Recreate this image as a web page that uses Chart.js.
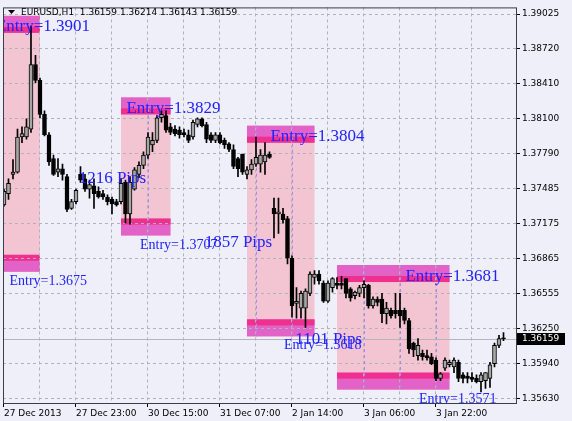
<!DOCTYPE html>
<html><head><meta charset="utf-8">
<script src="https://cdn.jsdelivr.net/npm/chart.js@4"></script>
<style>html,body{margin:0;padding:0;background:#eeeff8;}canvas{display:block;}</style>
</head><body>
<canvas id="c" width="572" height="421" style="width:572px;height:421px"></canvas>
<script>
const symbol = 'EURUSD,H1';
const xTickLabels = ['27 Dec 2013','27 Dec 23:00','30 Dec 15:00','31 Dec 07:00','2 Jan 14:00','3 Jan 06:00','3 Jan 22:00'];
const yTickLabels = ['1.35630','1.35940','1.36250','1.36555','1.36865','1.37175','1.37485','1.37790','1.38100','1.38410','1.38720','1.39025'];

const opens = [1.3734,1.3744,1.3761,1.3763,1.3794,1.3794,1.3801,1.3858,1.3844,1.3814,
1.3796,1.3775,1.3763,1.3766,1.3759,1.3731,1.3737,1.3761,1.3757,1.3748,
1.3751,1.3746,1.3744,1.3741,1.3739,1.3737,1.3737,1.3754,1.3726,1.3748,
1.3761,1.3769,1.3778,1.3787,1.3791,1.3811,1.3813,1.3803,1.3801,1.3800,
1.3798,1.3796,1.3794,1.3805,1.3810,1.3805,1.3796,1.3791,1.3796,1.3791,
1.3788,1.3783,1.3775,1.3779,1.3761,1.3765,1.3770,1.3770,1.3772,1.3779,
1.3731,1.3726,1.3726,1.3722,1.3687,1.3647,1.3643,1.3643,1.3656,1.3670,
1.3673,1.3665,1.3649,1.3661,1.3665,1.3665,1.3669,1.3660,1.3654,1.3656,
1.3661,1.3663,1.3645,1.3651,1.3651,1.3638,1.3641,1.3641,1.3641,1.3641,
1.3632,1.3612,1.3601,1.3603,1.3601,1.3600,1.3597,1.3581,1.3590,1.3593,
1.3591,1.3595,1.3584,1.3583,1.3582,1.3581,1.3578,1.3579,1.3581,1.3594,
1.3610,1.36159];
const highs = [1.3748,1.3757,1.3774,1.3801,1.3803,1.3810,1.3892,1.3866,1.3846,1.3817,
1.3798,1.3778,1.3775,1.3770,1.3761,1.3739,1.3748,1.3768,1.3761,1.3756,
1.3757,1.3750,1.3747,1.3743,1.3741,1.3739,1.3757,1.3756,1.3759,1.3767,
1.3772,1.3781,1.3798,1.3798,1.3813,1.3817,1.3817,1.3806,1.3804,1.3803,
1.3801,1.3800,1.3809,1.3811,1.3811,1.3807,1.3798,1.3798,1.3798,1.3793,
1.3789,1.3787,1.3776,1.3779,1.3768,1.3774,1.3794,1.3783,1.3789,1.3781,
1.3740,1.3740,1.3731,1.3724,1.3689,1.3661,1.3658,1.3660,1.3675,1.3676,
1.3676,1.3667,1.3667,1.3670,1.3670,1.3671,1.3669,1.3661,1.3658,1.3663,
1.3667,1.3664,1.3653,1.3653,1.3656,1.3648,1.3643,1.3656,1.3656,1.3643,
1.3634,1.3613,1.3616,1.3606,1.3606,1.3603,1.3599,1.3586,1.3599,1.3597,
1.3599,1.3597,1.3586,1.3586,1.3586,1.3584,1.3586,1.3586,1.3595,1.3612,
1.3619,1.36214];
const lows = [1.3733,1.3739,1.3757,1.3762,1.3789,1.3792,1.3798,1.3842,1.3811,1.3795,
1.3769,1.3760,1.3759,1.3756,1.3728,1.3730,1.3735,1.3754,1.3746,1.3740,
1.3731,1.3740,1.3739,1.3734,1.3726,1.3733,1.3735,1.3718,1.3717,1.3747,
1.3758,1.3766,1.3775,1.3781,1.3789,1.3807,1.3798,1.3796,1.3795,1.3793,
1.3794,1.3789,1.3792,1.3803,1.3803,1.3789,1.3789,1.3789,1.3788,1.3784,
1.3781,1.3766,1.3759,1.3761,1.3757,1.3761,1.3768,1.3763,1.3761,1.3775,
1.3705,1.3709,1.3718,1.3682,1.3635,1.3634,1.3634,1.3626,1.3654,1.3664,
1.3664,1.3648,1.3648,1.3657,1.3660,1.3660,1.3652,1.3649,1.3651,1.3653,
1.3652,1.3643,1.3643,1.3645,1.3630,1.3629,1.3634,1.3634,1.3626,1.3629,
1.3603,1.3600,1.3597,1.3597,1.3597,1.3593,1.3579,1.3579,1.3588,1.3591,
1.3586,1.3578,1.3577,1.3577,1.3578,1.3577,1.3569,1.3572,1.3573,1.3591,
1.3608,1.36143];
const closes = [1.3746,1.3753,1.3763,1.3794,1.3797,1.3803,1.3858,1.3844,1.3814,1.3796,
1.3772,1.3761,1.3766,1.3761,1.3730,1.3737,1.3747,1.3756,1.3748,1.3752,
1.3744,1.3741,1.3741,1.3737,1.3735,1.3734,1.3753,1.3726,1.3754,1.3765,
1.3769,1.3778,1.3794,1.3791,1.3811,1.3814,1.3800,1.3798,1.3797,1.3796,
1.3796,1.3791,1.3807,1.3810,1.3804,1.3792,1.3791,1.3796,1.3789,1.3787,
1.3783,1.3768,1.3766,1.3763,1.3765,1.3770,1.3776,1.3778,1.3778,1.3776,
1.3726,1.3728,1.3721,1.3687,1.3645,1.3649,1.3656,1.3658,1.3673,1.3673,
1.3667,1.3649,1.3665,1.3669,1.3663,1.3663,1.3656,1.3652,1.3657,1.3661,
1.3664,1.3645,1.3651,1.3648,1.3638,1.3643,1.3636,1.3638,1.3636,1.3632,
1.3607,1.3606,1.3610,1.3600,1.3599,1.3594,1.3581,1.3585,1.3597,1.3595,
1.3597,1.3581,1.3581,1.3581,1.3580,1.3578,1.3584,1.3586,1.3593,1.3610,
1.3616,1.36159];

// trade zones (bar index / price)
const zoneStart = [-1, 26, 54, 74];
const zoneEnd = [8, 37, 69, 99];
const zoneTop = [1.3901, 1.3829, 1.3804, 1.3681];
const zoneBottom = [1.3675, 1.3707, 1.3618, 1.3571];
const pipText = ['1216 Pips', '1857 Pips', '1101 Pips'];
const pipBar = [31.6, 59.6, 79.6];
const pipPrice = [1.37535, 1.36966, 1.36109];

const n = opens.length;
const bodies = opens.map((o, i) => ({x: i, y: [o, closes[i]]}));
const wicks = lows.map((l, i) => ({x: i, y: [l, highs[i]]}));
const isBull = opens.map((o, i) => closes[i] > o);

const BG = '#eeeff8';
const GRID = '#b2b2bc';

const decor = {
  id: 'decor',
  beforeDraw(chart) {
    const c = chart.ctx, a = chart.chartArea, xs = chart.scales.x, ys = chart.scales.y;
    c.save();
    c.fillStyle = BG;
    c.fillRect(0, 0, chart.width, chart.height);
    c.beginPath(); c.rect(a.left, a.top, a.right - a.left, a.bottom - a.top); c.clip();
    for (let i = 0; i < zoneStart.length; i++) {
      const x0 = xs.getPixelForValue(zoneStart[i]), x1 = xs.getPixelForValue(zoneEnd[i]);
      const yT = ys.getPixelForValue(zoneTop[i]), yB = ys.getPixelForValue(zoneBottom[i]);
      c.fillStyle = '#f3c5d2';
      c.fillRect(x0, yT, x1 - x0, yB - yT);
      c.fillStyle = '#e262c8';
      c.fillRect(x0, yT, x1 - x0, 17);
      c.fillRect(x0, yB - 17, x1 - x0, 17);
      c.fillStyle = '#f0308e';
      c.fillRect(x0, yT + 11, x1 - x0, 6);
      c.fillRect(x0, yB - 17, x1 - x0, 6);
    }
    c.restore();
  },
  beforeDatasetsDraw(chart) {
    const c = chart.ctx, a = chart.chartArea, xs = chart.scales.x, ys = chart.scales.y;
    c.save();
    c.beginPath(); c.rect(a.left, a.top, a.right - a.left, a.bottom - a.top); c.clip();
    // grid lines inside zones look purple
    c.strokeStyle = '#a58bea'; c.lineWidth = 1; c.setLineDash([3, 3]);
    for (let i = 0; i < zoneStart.length; i++) {
      const yT = ys.getPixelForValue(zoneTop[i]), yB = ys.getPixelForValue(zoneBottom[i]);
      for (let v = 8; v <= 112; v += 8) {
        if (v > zoneStart[i] && v < zoneEnd[i]) {
          const x = Math.round(xs.getPixelForValue(v)) + 0.5;
          c.beginPath(); c.moveTo(x, yT); c.lineTo(x, yB); c.stroke();
        }
      }
    }
    c.setLineDash([]);
    // current price line
    const yp = Math.round(ys.getPixelForValue(closes[n - 1])) + 0.5;
    c.strokeStyle = '#b4b4bc';
    c.beginPath(); c.moveTo(a.left, yp); c.lineTo(a.right, yp); c.stroke();
    c.restore();
  },
  afterDatasetsDraw(chart) {
    const c = chart.ctx, a = chart.chartArea, xs = chart.scales.x, ys = chart.scales.y;
    c.save();
    c.beginPath(); c.rect(a.left, a.top, a.right - a.left, a.bottom - a.top); c.clip();
    c.fillStyle = '#2222ff';
    c.textBaseline = 'alphabetic';
    for (let i = 0; i < zoneStart.length; i++) {
      const xr = xs.getPixelForValue(zoneEnd[i]);
      const yT = ys.getPixelForValue(zoneTop[i]), yB = ys.getPixelForValue(zoneBottom[i]);
      c.textAlign = 'left';
      c.font = '17px "Liberation Serif"';
      c.fillText('Entry=' + zoneTop[i].toFixed(4), xr - 44, yT + 15.5);
      c.font = '14px "Liberation Serif"';
      c.fillText('Entry=' + zoneBottom[i].toFixed(4), xr - 30.5, yB + 13);
    }
    c.font = '17px "Liberation Serif"';
    c.textAlign = 'right';
    for (let k = 0; k < pipText.length; k++) {
      c.fillText(pipText[k], xs.getPixelForValue(pipBar[k]), ys.getPixelForValue(pipPrice[k]));
    }
    c.restore();

    c.save();
    // frame
    c.strokeStyle = '#3c3c44'; c.lineWidth = 1;
    c.strokeRect(a.left + 0.5, a.top + 0.5, a.right - a.left, a.bottom - a.top);
    // header
    c.fillStyle = '#000';
    c.beginPath(); c.moveTo(8, 10); c.lineTo(15, 10); c.lineTo(11.5, 14); c.closePath(); c.fill();
    c.font = '9px "DejaVu Sans"'; c.textAlign = 'left'; c.textBaseline = 'middle';
    const f = v => v.toFixed(5);
    c.fillText(symbol + '  ' + f(opens[n-1]) + ' ' + f(highs[n-1]) + ' ' + f(lows[n-1]) + ' ' + f(closes[n-1]), 21, 12.5);
    // current price tag
    const yp = ys.getPixelForValue(closes[n - 1]);
    c.fillStyle = '#000';
    c.fillRect(a.right + 1, Math.round(yp) - 6, 48, 12);
    c.fillStyle = '#fff';
    c.fillText(f(closes[n - 1]), a.right + 6, Math.round(yp));
    c.restore();
  }
};

new Chart(document.getElementById('c'), {
  type: 'bar',
  data: {
    datasets: [
      {
        data: bodies, order: 0, grouped: false, barThickness: 4, minBarLength: 1,
        backgroundColor: ctx => isBull[ctx.dataIndex] ? '#a6a6a6' : '#000000',
        borderColor: '#000', borderWidth: 1, borderSkipped: false
      },
      {
        data: wicks, order: 1, grouped: false, barThickness: 1,
        backgroundColor: '#000', borderWidth: 0
      }
    ]
  },
  options: {
    responsive: false, animation: false, devicePixelRatio: 1,
    layout: {padding: {left: 3, top: 4, right: 0, bottom: 0}},
    plugins: {legend: {display: false}, tooltip: {enabled: false}},
    scales: {
      x: {
        type: 'linear', min: -0.22, max: 113.78, offset: false,
        afterBuildTicks: s => { const t = []; for (let v = 0; v <= 112; v += 8) t.push({value: v}); s.ticks = t; },
        afterFit: s => { s.height = 18; },
        ticks: {
          autoSkip: false, maxRotation: 0, minRotation: 0, align: 'start', padding: 1,
          color: '#000', font: {family: 'DejaVu Sans', size: 9},
          callback: v => (v % 16 === 0) ? xTickLabels[v / 16] : ''
        },
        grid: {
          offset: false, lineWidth: 1, drawTicks: true, tickLength: 4,
          color: ctx => (ctx.tick && ctx.tick.value === 0) ? 'rgba(0,0,0,0)' : GRID,
          tickColor: ctx => (ctx.tick && ctx.tick.value % 16 === 0) ? '#000' : 'rgba(0,0,0,0)'
        },
        border: {display: false, dash: [3, 3]}
      },
      y: {
        type: 'linear', position: 'right', min: 1.35592, max: 1.39084, beginAtZero: false,
        afterBuildTicks: s => { s.ticks = yTickLabels.map(t => ({value: parseFloat(t)})); },
        afterFit: s => { s.width = 56; },
        ticks: {
          padding: 2, color: '#000', font: {family: 'DejaVu Sans', size: 9},
          callback: (v, i) => yTickLabels[i]
        },
        grid: {lineWidth: 1, drawTicks: true, tickLength: 4, color: GRID, tickColor: '#000'},
        border: {display: false, dash: [3, 3]}
      }
    }
  },
  plugins: [decor]
});
</script>
</body></html>
